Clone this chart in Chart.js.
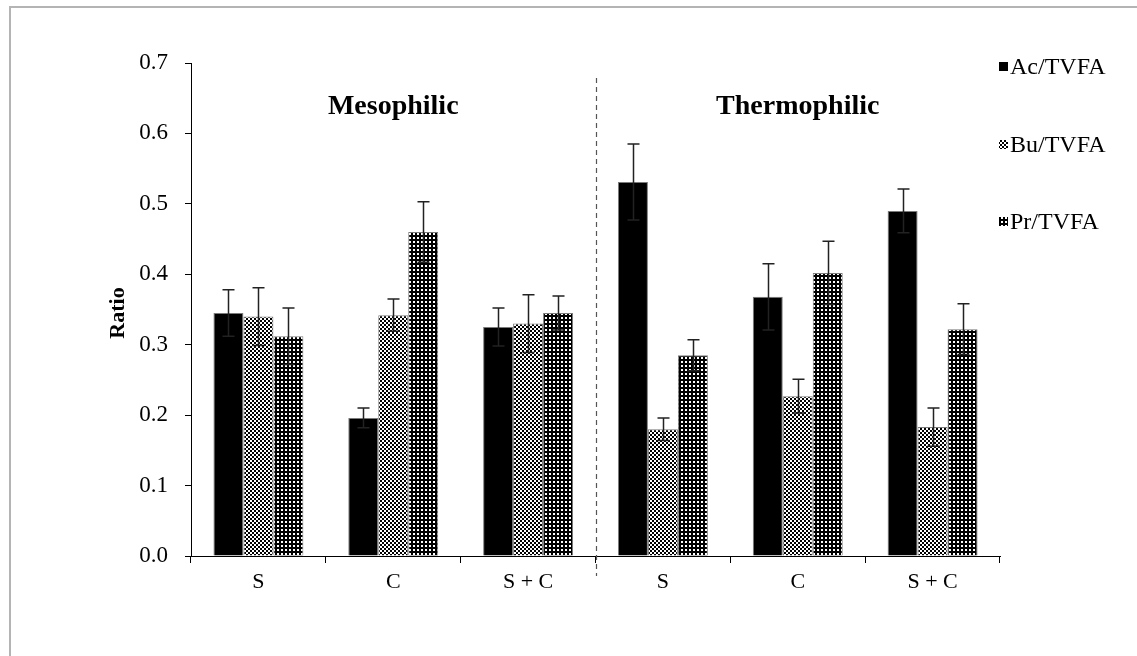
<!DOCTYPE html>
<html>
<head>
<meta charset="utf-8">
<script src="https://cdn.jsdelivr.net/npm/chart.js@4.4.1/dist/chart.umd.min.js"></script>
<style>
    html, body { margin: 0; padding: 0; background: #fff; }
    #wrap { width: 1137px; height: 656px; }
</style>
</head>
<body>
<div id="wrap"><canvas id="ratioChart" width="1137" height="656"></canvas></div>
<script>
const categories = ["S", "C", "S + C", "S", "C", "S + C"];
const groupTitles = ["Mesophilic", "Thermophilic"];
const seriesNames = ["Ac/TVFA", "Bu/TVFA", "Pr/TVFA"];

const acValues = [0.345, 0.196, 0.325, 0.531, 0.368, 0.490];
const acErrors = [0.033, 0.014, 0.027, 0.054, 0.047, 0.031];
const buValues = [0.340, 0.342, 0.330, 0.180, 0.227, 0.183];
const buErrors = [0.041, 0.023, 0.041, 0.016, 0.024, 0.027];
const prValues = [0.312, 0.460, 0.345, 0.285, 0.402, 0.322];
const prErrors = [0.040, 0.043, 0.024, 0.022, 0.045, 0.036];

const yTicks = [0, 0.1, 0.2, 0.3, 0.4, 0.5, 0.6, 0.7];

const serif = "'Liberation Serif', 'Times New Roman', serif";

function makePattern(kind) {
    let tile = document.createElement("canvas");
    tile.width = 4;
    tile.height = 4;
    let t = tile.getContext("2d");
    if (kind === "checker") {
        t.fillStyle = "#fff";
        t.fillRect(0, 0, 4, 4);
        t.fillStyle = "#000";
        t.fillRect(0, 0, 2, 2);
        t.fillRect(2, 2, 2, 2);
    } else {
        t.fillStyle = "#000";
        t.fillRect(0, 0, 4, 4);
        t.fillStyle = "#fff";
        t.fillRect(1, 1, 2, 2);
    }
    return document.createElement("canvas").getContext("2d").createPattern(tile, "repeat");
}

const fills = ["#000", makePattern("checker"), makePattern("dots")];
const errors = [acErrors, buErrors, prErrors];

const extras = {
    id: "extras",
    afterDatasetsDraw(chart) {
        let ctx = chart.ctx;
        let y = chart.scales.y;
        ctx.save();
        ctx.strokeStyle = "#222";
        ctx.lineWidth = 1.5;
        chart.data.datasets.forEach((ds, d) => {
            let meta = chart.getDatasetMeta(d);
            meta.data.forEach((bar, i) => {
                let v = ds.data[i];
                let e = errors[d][i];
                let top = y.getPixelForValue(v + e);
                let bottom = y.getPixelForValue(v - e);
                let x = Math.round(bar.x) + 0.5;
                ctx.beginPath();
                ctx.moveTo(x, top);
                ctx.lineTo(x, bottom);
                ctx.moveTo(x - 6, top);
                ctx.lineTo(x + 6, top);
                ctx.moveTo(x - 6, bottom);
                ctx.lineTo(x + 6, bottom);
                ctx.stroke();
            });
        });
        ctx.restore();
    },
    afterDraw(chart) {
        let ctx = chart.ctx;
        let xs = chart.scales.x;
        let ys = chart.scales.y;
        ctx.save();

        // outer frame
        ctx.strokeStyle = "#b4b4b4";
        ctx.lineWidth = 2;
        ctx.beginPath();
        ctx.moveTo(10, 700);
        ctx.lineTo(10, 7);
        ctx.lineTo(1200, 7);
        ctx.stroke();

        // divider between the two groups
        let mid = Math.round((xs.getPixelForValue(2) + xs.getPixelForValue(3)) / 2) + 0.5;
        ctx.strokeStyle = "#555";
        ctx.lineWidth = 1.2;
        ctx.setLineDash([5, 4]);
        ctx.beginPath();
        ctx.moveTo(mid, 78);
        ctx.lineTo(mid, 576);
        ctx.stroke();
        ctx.setLineDash([]);

        // group titles
        ctx.fillStyle = "#000";
        ctx.font = "bold 28px " + serif;
        ctx.textAlign = "center";
        ctx.textBaseline = "middle";
        ctx.fillText(groupTitles[0], xs.getPixelForValue(1), ys.getPixelForValue(0.638));
        ctx.fillText(groupTitles[1], xs.getPixelForValue(4), ys.getPixelForValue(0.638));

        // axis title
        ctx.save();
        ctx.translate(118, 313);
        ctx.rotate(-Math.PI / 2);
        ctx.font = "bold 22px " + serif;
        ctx.fillText("Ratio", 0, 0);
        ctx.restore();

        // legend
        let legendY = [67, 145, 222];
        ctx.textAlign = "left";
        ctx.font = "24px " + serif;
        seriesNames.forEach((name, i) => {
            ctx.fillStyle = fills[i];
            ctx.fillRect(999, legendY[i] - 5, 9, 9);
            ctx.fillStyle = "#000";
            ctx.fillText(name, 1010, legendY[i] + 1);
        });
        ctx.restore();
    }
};

const ctx = document.getElementById("ratioChart").getContext("2d");
new Chart(ctx, {
    type: "bar",
    data: {
        labels: categories,
        datasets: [
            { label: seriesNames[0], data: acValues, backgroundColor: fills[0], borderColor: "#7a7a7a", borderWidth: 1 },
            { label: seriesNames[1], data: buValues, backgroundColor: fills[1], borderColor: "#7a7a7a", borderWidth: 1 },
            { label: seriesNames[2], data: prValues, backgroundColor: fills[2], borderColor: "#7a7a7a", borderWidth: 1 }
        ]
    },
    options: {
        responsive: false,
        devicePixelRatio: 1,
        animation: false,
        layout: { padding: { left: 0, top: 63, right: 137, bottom: 0 } },
        datasets: { bar: { categoryPercentage: 0.667, barPercentage: 1 } },
        plugins: {
            legend: { display: false },
            tooltip: { enabled: false }
        },
        scales: {
            x: {
                grid: { display: true, drawOnChartArea: false, drawTicks: true, tickLength: 7, color: "#000", offset: true },
                border: { display: true, color: "#000", width: 1 },
                ticks: { color: "#000", padding: 6, font: { family: serif, size: 22 } },
                afterFit(scale) { scale.height = 100; }
            },
            y: {
                min: 0,
                max: 0.7,
                afterBuildTicks(scale) { scale.ticks = yTicks.map(v => ({ value: v })); },
                grid: { display: true, drawOnChartArea: false, drawTicks: true, tickLength: 6, color: "#000" },
                border: { display: true, color: "#000", width: 1 },
                ticks: {
                    color: "#000",
                    padding: 17,
                    font: { family: serif, size: 23 },
                    callback: v => Number(v).toFixed(1)
                },
                afterFit(scale) { scale.width = 191; }
            }
        }
    },
    plugins: [extras]
});
</script>
</body>
</html>
